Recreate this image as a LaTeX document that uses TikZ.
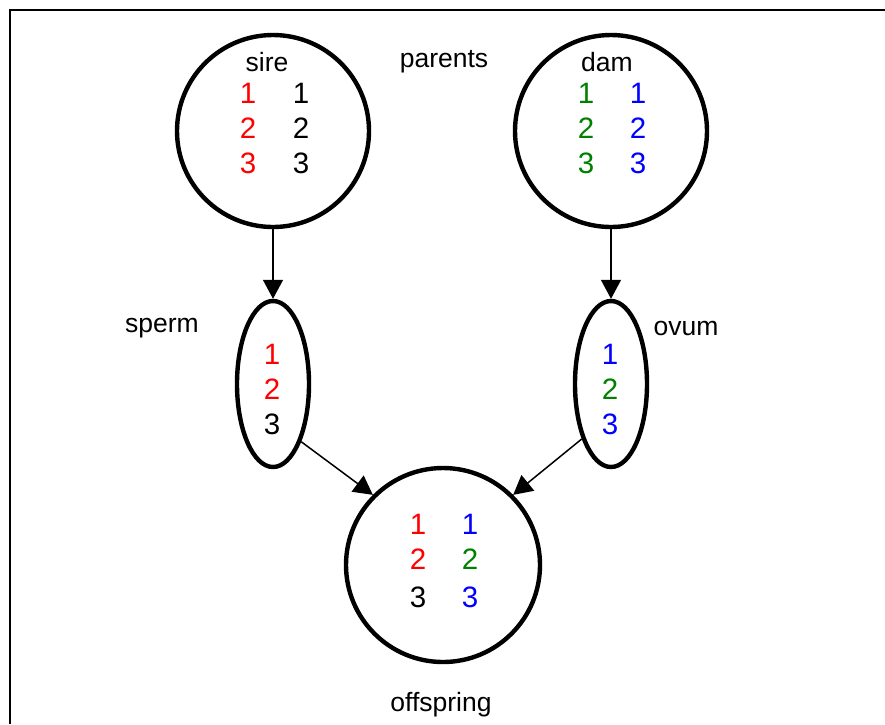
\documentclass[tikz,border=0pt]{standalone}
\usepackage{fontspec}
\setmainfont{Liberation Sans}
\usetikzlibrary{shapes.geometric,arrows.meta}
\definecolor{dgreen}{RGB}{0,128,0}
\begin{document}
\begin{tikzpicture}[x=1pt,y=-1pt,
  bigcirc/.style={draw,circle,line width=4.4pt,minimum size=192pt,inner sep=0pt},
  gamete/.style={draw,ellipse,line width=4.4pt,minimum width=72pt,minimum height=166pt,inner sep=0pt},
  lbl/.style={font=\fontsize{26.5}{30}\selectfont,inner sep=0pt},
  num/.style={font=\fontsize{29.5}{32}\selectfont,inner sep=0pt},
  conn/.style={line width=1.5pt,-{Triangle[length=19pt,width=20pt]}}]
\useasboundingbox (0,0) rectangle (885,724);
\draw[line width=2pt] (885,10) -- (10,10) -- (10,724);
% parents
\node[bigcirc] (sire) at (273,131) {};
\node[bigcirc] (dam) at (611,131) {};
\node[lbl] (tsire) at (267,62) {sire};
\node[lbl] (tparents) at (444,62) {parents};
\node[lbl] (tdam) at (607,62) {dam};
\node[num,red] (s11) at (248,93) {1};
\node[num,red] (s12) at (248,128) {2};
\node[num,red] (s13) at (248,163) {3};
\node[num] (s21) at (301,93) {1};
\node[num] (s22) at (301,128) {2};
\node[num] (s23) at (301,163) {3};
\node[num,dgreen] (d11) at (586,93) {1};
\node[num,dgreen] (d12) at (586,128) {2};
\node[num,dgreen] (d13) at (586,163) {3};
\node[num,blue] (d21) at (638,93) {1};
\node[num,blue] (d22) at (638,128) {2};
\node[num,blue] (d23) at (638,163) {3};
% gametes
\node[gamete] (sperm) at (273,384) {};
\node[gamete] (ovum) at (611,384) {};
\node[lbl] (tsperm) at (162,328) {sperm};
\node[lbl] (tovum) at (686,328) {ovum};
\node[num,red] (p1) at (272,354) {1};
\node[num,red] (p2) at (272,389) {2};
\node[num] (p3) at (272,424) {3};
\node[num,blue] (o1) at (610,354) {1};
\node[num,dgreen] (o2) at (610,389) {2};
\node[num,blue] (o3) at (610,424) {3};
% offspring
\node[bigcirc,minimum size=194pt] (off) at (443,565) {};
\node[num,red] (f11) at (418,524) {1};
\node[num,red] (f12) at (418,559) {2};
\node[num] (f13) at (418,597) {3};
\node[num,blue] (f21) at (470,524) {1};
\node[num,dgreen] (f22) at (470,559) {2};
\node[num,blue] (f23) at (470,597) {3};
\node[lbl] (toff) at (441,705) {offspring};
% connectors
\draw[conn] (sire.south) -- (sperm.north);
\draw[conn] (dam.south) -- (ovum.north);
\draw[conn] (sperm.-64) -- (off.135);
\draw[conn] (ovum.-118) -- (off.45);
\end{tikzpicture}
\end{document}
